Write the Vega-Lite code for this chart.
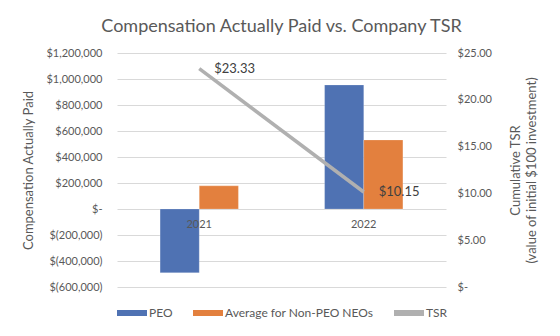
{
  "$schema": "https://vega.github.io/schema/vega-lite/v6.json",
  "autosize": "none",
  "width": 329,
  "height": 234,
  "padding": {"left": 117, "top": 53, "right": 114, "bottom": 49},
  "background": "white",
  "title": {"text": "Compensation Actually Paid vs. Company TSR", "fontSize": 18, "font": "Lato", "fontWeight": "normal", "color": "#595959", "offset": 11, "anchor": "middle"},
  "config": {
    "view": {"stroke": null},
    "font": "Lato",
    "axis": {"labelFont": "Lato", "titleFont": "Lato", "labelColor": "#595959", "titleColor": "#595959", "labelFontSize": 11, "titleFontSize": 13, "titleFontWeight": "normal", "ticks": false, "domain": false},
    "legend": {"labelFont": "Lato", "labelColor": "#595959", "labelFontSize": 12}
  },
  "layer": [
    {
      "data": {"values": [
        {"year": "2021", "series": "PEO", "value": -490000},
        {"year": "2021", "series": "Average for Non-PEO NEOs", "value": 178000},
        {"year": "2022", "series": "PEO", "value": 954000},
        {"year": "2022", "series": "Average for Non-PEO NEOs", "value": 531000}
      ]},
      "mark": {"type": "bar", "stroke": "#ffffff", "strokeWidth": 0.5, "strokeOpacity": 0.4},
      "encoding": {
        "x": {"field": "year", "type": "nominal", "scale": {"paddingInner": 0.524, "paddingOuter": 0.262},
          "axis": {"title": null, "labelAngle": 0, "offset": -78, "grid": false, "zindex": 1, "labelPadding": 9}},
        "xOffset": {"field": "series", "type": "nominal", "sort": ["PEO", "Average for Non-PEO NEOs"]},
        "y": {"field": "value", "type": "quantitative", "scale": {"domain": [-600000, 1200000], "nice": false},
          "axis": {"title": "Compensation Actually Paid", "values": [-600000, -400000, -200000, 0, 200000, 400000, 600000, 800000, 1000000, 1200000],
            "labelExpr": "datum.value == 0 ? '$-\u00a0\u00a0' : (datum.value < 0 ? '$(' + format(-datum.value, ',') + ')' : '$' + format(datum.value, ','))",
            "grid": true, "gridColor": "#d9d9d9", "gridWidth": 1, "labelPadding": 15, "titlePadding": 10}},
        "color": {"field": "series", "type": "nominal",
          "scale": {"domain": ["PEO", "Average for Non-PEO NEOs", "TSR"], "range": ["#4f72b3", "#e3803e", "#b0b0b0"]},
          "legend": {"title": null, "orient": "bottom", "direction": "horizontal", "offset": 11, "symbolType": "M-1,-0.2H1V0.2H-1Z", "symbolSize": 900, "symbolStrokeWidth": 0, "columnPadding": 20, "labelOffset": 2,
            "encode": {"symbols": {"update": {"shape": {"signal": "datum.value === 'TSR' ? 'M-1,-0.1H1V0.1H-1Z' : 'M-1,-0.2H1V0.2H-1Z'"}}}}}}
      }
    },
    {
      "data": {"values": [
        {"year": "2021", "series": "TSR", "tsr": 23.33},
        {"year": "2022", "series": "TSR", "tsr": 10.15}
      ]},
      "layer": [
        {
          "mark": {"type": "line", "strokeWidth": 3.5},
          "encoding": {
            "x": {"field": "year", "type": "nominal"},
            "y": {"field": "tsr", "type": "quantitative", "scale": {"domain": [0, 25], "nice": false},
              "axis": {"orient": "right", "title": ["Cumulative TSR", "(value of initial $100 investment)"], "values": [0, 5, 10, 15, 20, 25],
                "labelExpr": "datum.value == 0 ? '$-' : '$' + format(datum.value, '.2f')", "grid": false, "labelPadding": 11, "titlePadding": 15, "titleAngle": 270, "titleLineHeight": 16}},
            "color": {"field": "series", "type": "nominal"}
          }
        },
        {
          "mark": {"type": "text", "align": "left", "baseline": "middle", "dx": 15, "fontSize": 13, "color": "#404040"},
          "encoding": {
            "x": {"field": "year", "type": "nominal"},
            "y": {"field": "tsr", "type": "quantitative"},
            "text": {"field": "tsr", "type": "quantitative", "format": "$.2f"}
          }
        }
      ]
    }
  ],
  "resolve": {"scale": {"y": "independent"}}
}
